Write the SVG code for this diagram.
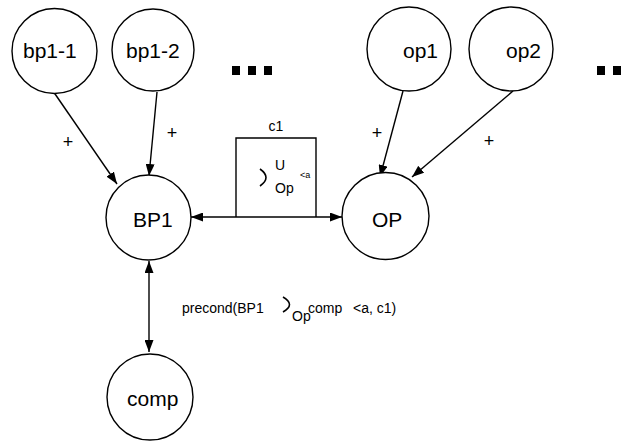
<svg xmlns="http://www.w3.org/2000/svg" width="629" height="441" viewBox="0 0 629 441">
<defs>
<style>
.node{fill:#fff;stroke:#000;stroke-width:1.4}
.lbl{font-family:"Liberation Sans",Arial,sans-serif;font-size:21px;fill:#000}
.sm{font-family:"Liberation Sans",Arial,sans-serif;font-size:14px;fill:#000}
.plus{font-family:"Liberation Sans",Arial,sans-serif;font-size:18px;fill:#000}
.tiny{font-family:"Liberation Sans",Arial,sans-serif;font-size:9px;fill:#000}
.edge{stroke:#000;stroke-width:1.4;fill:none}
.dot{fill:#000}
</style>
<marker id="ah" markerUnits="userSpaceOnUse" markerWidth="13" markerHeight="9" refX="12" refY="4.5" orient="auto-start-reverse">
<path d="M0,0 L12,4.5 L0,9 z" fill="#000"/>
</marker>
</defs>
<rect width="629" height="441" fill="#fff"/>
<g id="connectors">
<line class="edge" x1="53" y1="91" x2="117" y2="184" marker-end="url(#ah)"/>
<line class="edge" x1="157" y1="92" x2="149" y2="176" marker-end="url(#ah)"/>
<line class="edge" x1="403" y1="91" x2="380" y2="177" marker-end="url(#ah)"/>
<line class="edge" x1="513" y1="91" x2="412" y2="177" marker-end="url(#ah)"/>
<line class="edge" x1="191" y1="217" x2="342" y2="217" marker-start="url(#ah)" marker-end="url(#ah)"/>
<line class="edge" x1="149" y1="261" x2="149" y2="352" marker-start="url(#ah)" marker-end="url(#ah)"/>
<text class="plus" x="68" y="148" text-anchor="middle">+</text>
<text class="plus" x="172" y="139" text-anchor="middle">+</text>
<text class="plus" x="377" y="139" text-anchor="middle">+</text>
<text class="plus" x="489" y="147" text-anchor="middle">+</text>
</g>
<g id="c1">
<path class="edge" d="M236,217 V138 H316 V217"/>
<text class="sm" x="276" y="131" text-anchor="middle">c1</text>
<path d="M260,169 Q272,177.5 260,186" fill="none" stroke="#000" stroke-width="1.6"/>
<text class="sm" x="280" y="170" text-anchor="middle">U</text>
<text class="sm" x="275" y="193">Op</text>
<text class="tiny" x="300" y="178">&lt;a</text>
</g>
<g id="precond">
<text class="sm" x="182" y="313">precond(BP1</text>
<path d="M283,297 Q296,304.5 283,312" fill="none" stroke="#000" stroke-width="1.6"/>
<text class="sm" x="292" y="321">Op</text>
<text class="sm" x="308" y="313">comp</text>
<text class="sm" x="353" y="313">&lt;a, c1)</text>
</g>
<g id="bp1-1"><circle class="node" cx="54.5" cy="51" r="42.5"/><text class="lbl" x="23" y="58">bp1-1</text></g>
<g id="bp1-2"><circle class="node" cx="153" cy="50" r="41"/><text class="lbl" x="126" y="58">bp1-2</text></g>
<g id="op1"><circle class="node" cx="409" cy="49" r="42"/><text class="lbl" x="403" y="58">op1</text></g>
<g id="op2"><circle class="node" cx="511" cy="49" r="42"/><text class="lbl" x="506" y="58">op2</text></g>
<g id="BP1"><circle class="node" cx="148.5" cy="217.5" r="42.5"/><text class="lbl" x="133" y="227">BP1</text></g>
<g id="OP"><circle class="node" cx="385.5" cy="216" r="43.5"/><text class="lbl" x="372" y="227">OP</text></g>
<g id="comp"><circle class="node" cx="150" cy="397" r="43"/><text class="lbl" x="127" y="406">comp</text></g>
<g id="dots">
<rect class="dot" x="232" y="66" width="8" height="9"/>
<rect class="dot" x="248" y="66" width="8" height="9"/>
<rect class="dot" x="264" y="66" width="8" height="9"/>
<rect class="dot" x="597" y="66" width="8" height="9"/>
<rect class="dot" x="613" y="66" width="8" height="9"/>
</g>
</svg>
